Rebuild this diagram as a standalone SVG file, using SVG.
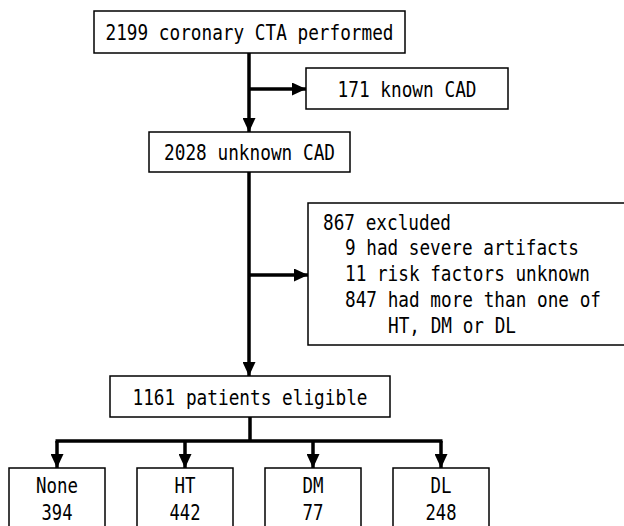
<svg xmlns="http://www.w3.org/2000/svg" width="624" height="526" viewBox="0 0 624 526">
<defs>
<style>
.box{fill:#fff;stroke:#000;stroke-width:1.5}
.t{font-family:"DejaVu Sans Mono","Liberation Mono",monospace;font-size:18px;fill:#000}
.c{text-anchor:middle}
.ln{fill:none;stroke:#000;stroke-width:3.5}
</style>
<marker id="ah" viewBox="0 0 14 13" refX="14" refY="6.5" markerWidth="14" markerHeight="13" markerUnits="userSpaceOnUse" orient="auto">
<path d="M0,0 L14,6.5 L0,13 Z" fill="#000"/>
</marker>
</defs>
<rect width="624" height="526" fill="#fff"/>
<g id="connectors">
<path class="ln" d="M249,53 V132" marker-end="url(#ah)"/>
<path class="ln" d="M249,89 H306" marker-end="url(#ah)"/>
<path class="ln" d="M249,172 V376" marker-end="url(#ah)"/>
<path class="ln" d="M249,275 H308" marker-end="url(#ah)"/>
<path class="ln" d="M250,417 V441 M55.5,441 H442.5"/>
<path class="ln" d="M57,441 V468" marker-end="url(#ah)"/>
<path class="ln" d="M185,441 V468" marker-end="url(#ah)"/>
<path class="ln" d="M313,441 V468" marker-end="url(#ah)"/>
<path class="ln" d="M441,441 V468" marker-end="url(#ah)"/>
</g>
<g id="n-performed">
<rect class="box" x="94" y="11" width="311" height="42"/>
<text class="t c" transform="translate(249.5,40) scale(1,1.17)" textLength="288" lengthAdjust="spacingAndGlyphs">2199 coronary CTA performed</text>
</g>
<g id="n-known">
<rect class="box" x="306" y="68" width="202" height="41"/>
<text class="t c" transform="translate(407,97) scale(1,1.17)" textLength="139" lengthAdjust="spacingAndGlyphs">171 known CAD</text>
</g>
<g id="n-unknown">
<rect class="box" x="149" y="132" width="201" height="40"/>
<text class="t c" transform="translate(249.5,160) scale(1,1.17)" textLength="171" lengthAdjust="spacingAndGlyphs">2028 unknown CAD</text>
</g>
<g id="n-excluded">
<rect class="box" x="308" y="203" width="320" height="142"/>
<text class="t" transform="translate(323,230) scale(1,1.17)" textLength="128" lengthAdjust="spacingAndGlyphs">867 excluded</text>
<text class="t" transform="translate(345,255) scale(1,1.17)" textLength="234" lengthAdjust="spacingAndGlyphs">9 had severe artifacts</text>
<text class="t" transform="translate(345,281) scale(1,1.17)" textLength="245" lengthAdjust="spacingAndGlyphs">11 risk factors unknown</text>
<text class="t" transform="translate(345,307) scale(1,1.17)" textLength="256" lengthAdjust="spacingAndGlyphs">847 had more than one of</text>
<text class="t" transform="translate(388,333) scale(1,1.17)" textLength="128" lengthAdjust="spacingAndGlyphs">HT, DM or DL</text>
</g>
<g id="n-eligible">
<rect class="box" x="110" y="376" width="280" height="41"/>
<text class="t c" transform="translate(250,405) scale(1,1.17)" textLength="235" lengthAdjust="spacingAndGlyphs">1161 patients eligible</text>
</g>
<g id="n-none">
<rect class="box" x="9" y="468" width="96" height="70"/>
<text class="t c" transform="translate(57,493) scale(1,1.17)" textLength="42" lengthAdjust="spacingAndGlyphs">None</text>
<text class="t c" transform="translate(57,520) scale(1,1.17)" textLength="31" lengthAdjust="spacingAndGlyphs">394</text>
</g>
<g id="n-ht">
<rect class="box" x="137" y="468" width="96" height="70"/>
<text class="t c" transform="translate(185,493) scale(1,1.17)" textLength="21" lengthAdjust="spacingAndGlyphs">HT</text>
<text class="t c" transform="translate(185,520) scale(1,1.17)" textLength="31" lengthAdjust="spacingAndGlyphs">442</text>
</g>
<g id="n-dm">
<rect class="box" x="265" y="468" width="96" height="70"/>
<text class="t c" transform="translate(313,493) scale(1,1.17)" textLength="21" lengthAdjust="spacingAndGlyphs">DM</text>
<text class="t c" transform="translate(313,520) scale(1,1.17)" textLength="21" lengthAdjust="spacingAndGlyphs">77</text>
</g>
<g id="n-dl">
<rect class="box" x="393" y="468" width="96" height="70"/>
<text class="t c" transform="translate(441,493) scale(1,1.17)" textLength="21" lengthAdjust="spacingAndGlyphs">DL</text>
<text class="t c" transform="translate(441,520) scale(1,1.17)" textLength="31" lengthAdjust="spacingAndGlyphs">248</text>
</g>
</svg>
